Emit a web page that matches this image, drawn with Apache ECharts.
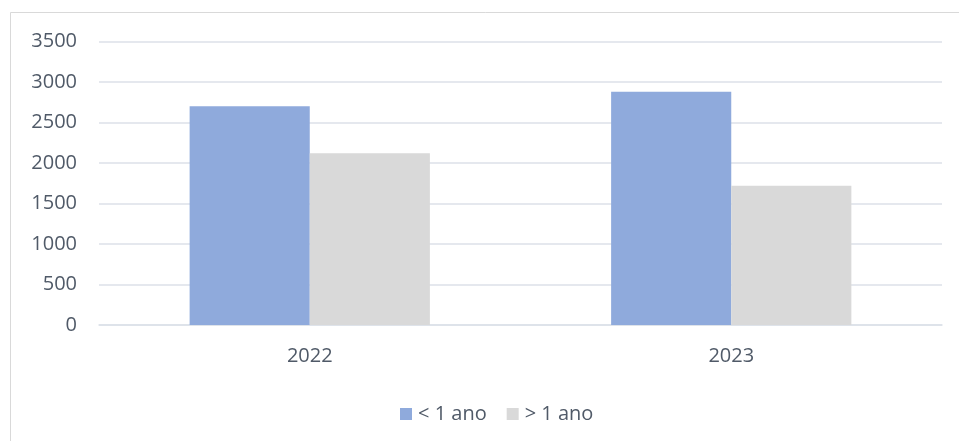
<!DOCTYPE html>
<html>
<head>
<meta charset="utf-8">
<script src="https://cdn.jsdelivr.net/npm/echarts@6/dist/echarts.min.js"></script>
<style>
html,body{margin:0;padding:0;background:#fff;}
#chart{width:959px;height:441px;}
</style>
</head>
<body>
<div id="chart"></div>
<script>
const categories = ['2022', '2023'];
const seriesNames = ['< 1 ano', '> 1 ano'];
const lessThanOneYear = [2700, 2880];
const moreThanOneYear = [2120, 1720];
const yTicks = [0, 500, 1000, 1500, 2000, 2500, 3000, 3500];

const textColor = '#505a68';
const font = 'Open Sans';
const fs = 20;

const chart = echarts.init(document.getElementById('chart'), null, {renderer: 'canvas'});
chart.setOption({
  animation: false,
  backgroundColor: '#ffffff',
  graphic: [{
    type: 'rect',
    shape: {x: 10.5, y: 12.5, width: 1200, height: 1200},
    style: {fill: 'none', stroke: '#d9d9d9', lineWidth: 1},
    silent: true,
    z: -10
  }],
  grid: {left: 99, right: 17, top: 41.5, bottom: 116, containLabel: false},
  legend: {
    data: seriesNames,
    left: 395,
    top: 399,
    itemWidth: 12,
    itemHeight: 12,
    itemGap: 20,
    icon: 'rect',
    textStyle: {color: textColor, fontFamily: font, fontSize: fs, padding: [0, 0, 0, 1]}
  },
  xAxis: {
    type: 'category',
    data: categories,
    axisLine: {show: true, lineStyle: {color: '#dce1e9', width: 1.5}},
    axisTick: {show: false},
    axisLabel: {color: textColor, fontFamily: font, fontSize: fs, margin: 21}
  },
  yAxis: {
    type: 'value',
    min: yTicks[0],
    max: yTicks[yTicks.length - 1],
    interval: 500,
    axisLine: {show: false},
    axisTick: {show: false},
    axisLabel: {color: textColor, fontFamily: font, fontSize: fs, margin: 22, formatter: v => String(v)},
    splitLine: {lineStyle: {color: '#dce1e9', width: 1.5}}
  },
  series: [
    {
      name: seriesNames[0],
      type: 'bar',
      data: lessThanOneYear,
      barGap: '0%',
      barCategoryGap: '43%',
      itemStyle: {color: '#8faadc'}
    },
    {
      name: seriesNames[1],
      type: 'bar',
      data: moreThanOneYear,
      barGap: '0%',
      barCategoryGap: '43%',
      itemStyle: {color: '#d9d9d9'}
    }
  ]
});
</script>
</body>
</html>
